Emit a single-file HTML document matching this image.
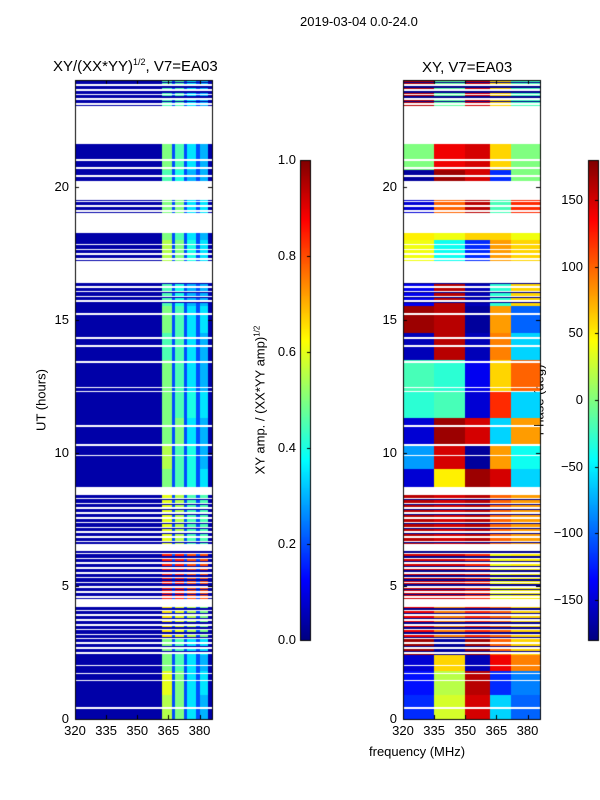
<!DOCTYPE html>
<html><head><meta charset="utf-8">
<style>
body{margin:0;width:600px;height:800px;background:#fff;position:relative;font-family:"Liberation Sans",sans-serif;overflow:hidden}
.t{position:absolute;font-size:13px;color:#000;white-space:nowrap}
canvas{position:absolute}
</style></head><body>
<div class="t" style="left:300px;top:14px">2019-03-04 0.0-24.0</div>
<div class="t" style="left:53px;top:57px;font-size:15px">XY/(XX*YY)<sup style="font-size:9px">1/2</sup>, V7=EA03</div>
<div class="t" style="left:422px;top:59px;font-size:15px">XY, V7=EA03</div>
<div class="t" style="left:41px;top:400px;transform:translate(-50%,-50%) rotate(-90deg)">UT (hours)</div>
<div class="t" style="left:260px;top:400px;transform:translate(-50%,-50%) rotate(-90deg)">XY amp. / (XX*YY amp)<sup style="font-size:8px">1/2</sup></div>
<div class="t" style="left:539px;top:400px;transform:translate(-50%,-50%) rotate(-90deg)">Phase (deg)</div>
<div class="t" style="left:369px;top:744px">frequency (MHz)</div>
<canvas id="c" width="600" height="800"></canvas>
<div id="labels"></div>
<script>
const hourTicks=[0,5,10,15,20];
const freqTicks=[320,335,350,365,380];
const ampTicks=[0.0,0.2,0.4,0.6,0.8,1.0];
const phaseTicks=[-150,-100,-50,0,50,100,150];
const freqEdges=[320,335,350,362,372,386];
const gaps=[[0.35,0.45],[4.2,4.5],[6.3,6.57],[8.4,8.7],[16.4,17.2],[18.25,19.0],[19.85,20.2],[21.6,23.0]];
const stripedRanges=[[2.4,3.1],[3.1,4.2],[4.5,6.3],[6.57,8.4],[15.6,16.4],[17.2,17.95],[19.0,19.5],[23.0,24]];
const thinGaps=[1.45,1.7,2.0,9.9,10.3,11.0,12.3,12.45,13.4,14.0,14.3,15.2,20.4,20.7,21.0,23.6];
const phaseStart=[0,0.9,1.8,2.4,3.1,4.5,6.57,8.7,9.4,10.3,11.3,12.3,13.5,14.5,15.5,17.2,18.0,19.0,20.2,20.6,23.0];
const phaseEnd=[0.9,1.8,2.4,3.1,4.2,6.3,8.4,9.4,10.3,11.3,12.3,13.5,14.5,15.5,16.4,18.0,18.3,19.5,20.6,21.6,24];
const phaseA=[-120,-130,-150,170,140,150,160,-150,-80,-150,-30,-20,-160,170,-140,40,50,-150,-170,0,160];
const phaseB=[30,20,60,-170,90,150,150,50,150,170,-20,-30,160,160,160,-40,40,100,170,140,-10];
const phaseC=[150,160,-160,170,120,120,160,170,-170,150,-150,-140,-160,-170,-160,-120,60,160,150,150,150];
const phaseD=[-60,-120,140,100,100,40,100,150,80,-60,120,60,90,80,-30,80,60,-20,-120,60,60];
const phaseE=[-100,-90,90,60,60,50,80,-60,-40,80,-60,100,-60,-100,60,60,40,120,0,0,-20];
const ampB1=[0.55,0.6,0.5,0.5,0.65,0.85,0.6,0.5,0.55,0.5,0.5,0.5,0.45,0.5,0.45,0.55,0.5,0.5,0.45,0.5,0.45];
const ampB2=[0.5,0.5,0.45,0.45,0.6,0.85,0.55,0.45,0.45,0.5,0.45,0.45,0.45,0.45,0.4,0.5,0.45,0.5,0.4,0.45,0.45];
const ampB3=[0.35,0.35,0.35,0.35,0.55,0.8,0.45,0.4,0.4,0.35,0.4,0.35,0.35,0.35,0.3,0.4,0.35,0.35,0.3,0.35,0.35];
const ampB4=[0.3,0.35,0.3,0.35,0.5,0.8,0.45,0.35,0.3,0.3,0.35,0.3,0.3,0.35,0.3,0.35,0.3,0.35,0.3,0.3,0.3];
const ampBase=0.04;

const L={x0:75,x1:212},R={x0:403,x1:540},Y0=719,Y1=80;
const fmin=320,fmax=386,hmin=0,hmax=24;
function xs(p,f){return p.x0+(f-fmin)/(fmax-fmin)*(p.x1-p.x0);}
function ys(h){return Y0-(h-hmin)/(hmax-hmin)*(Y0-Y1);}
function jet(v){v=Math.max(0,Math.min(1,v));
 const c=x=>Math.round(255*Math.max(0,Math.min(1,x)));
 return `rgb(${c(1.5-Math.abs(4*v-3))},${c(1.5-Math.abs(4*v-2))},${c(1.5-Math.abs(4*v-1))})`;}
function isWhite(h){
 for(const g of gaps) if(h>=g[0]&&h<g[1]) return true;
 for(const t of thinGaps) if(Math.abs(h-t)<0.03) return true;
 for(const s of stripedRanges) if(h>=s[0]&&h<s[1]){const k=Math.floor((h-s[0])/0.06);if(k%3===1)return true;}
 let inSeg=false;for(let i=0;i<phaseStart.length;i++) if(h>=phaseStart[i]&&h<phaseEnd[i]) inSeg=true;
 return !inSeg;}
function seg(h){for(let i=0;i<phaseStart.length;i++) if(h>=phaseStart[i]&&h<phaseEnd[i]) return i;return -1;}
const cv=document.getElementById('c'),ctx=cv.getContext('2d');
const dh=0.03,df=0.5;
function rect(x1,x2,y1,y2){const a=Math.round(x1),b=Math.round(x2),c=Math.round(y1),d=Math.round(y2);if(b>a&&d>c)ctx.fillRect(a,c,b-a,d-c);}
for(let h=hmin;h<hmax-1e-9;h+=dh){
 if(isWhite(h+dh/2)) continue;
 const i=seg(h+dh/2); if(i<0) continue;
 const striped=stripedRanges.some(s=>h>=s[0]&&h<s[1]);
 const alt=striped&&Math.floor(h/0.06)%3===2;
 const y1=ys(h+dh),y2=ys(h);
 for(let f=fmin;f<fmax-1e-9;f+=df){
  const fc=f+df/2;
  let a=ampBase;
  if(fc>=362&&fc<366.5)a=ampB1[i];else if(fc>=368&&fc<372.5)a=ampB2[i];
  else if(fc>=374&&fc<378.5)a=ampB3[i];else if(fc>=380&&fc<384)a=ampB4[i];
  else if(fc>=362&&fc<384)a=0.2;
  if(alt)a=ampBase;
  ctx.fillStyle=jet(a);
  rect(xs(L,f),xs(L,f+df),y1,y2);
  let k=0;while(k<4&&fc>=freqEdges[k+1])k++;
  let p=[phaseA,phaseB,phaseC,phaseD,phaseE][k][i];
  if(alt)p=-175;
  ctx.fillStyle=jet((p+180)/360);
  rect(xs(R,f),xs(R,f+df),y1,y2);
 }
}
const CB1={x:300,w:10},CB2={x:588,w:10},cbT=160,cbB=640;
for(let y=cbT;y<cbB;y++){const v=(cbB-y)/(cbB-cbT);ctx.fillStyle=jet(v);
 ctx.fillRect(CB1.x,y,CB1.w,1);ctx.fillRect(CB2.x,y,CB2.w,1);}
ctx.strokeStyle='#000';ctx.lineWidth=1;
[L,R].forEach(p=>{ctx.strokeRect(p.x0+0.5,Y1+0.5,p.x1-p.x0,Y0-Y1);
 hourTicks.forEach(h=>{const y=Math.round(ys(h))+0.5;ctx.beginPath();ctx.moveTo(p.x0,y);ctx.lineTo(p.x0+4,y);ctx.moveTo(p.x1,y);ctx.lineTo(p.x1-4,y);ctx.stroke();});
 freqTicks.forEach(f=>{const x=Math.round(xs(p,f))+0.5;ctx.beginPath();ctx.moveTo(x,Y0);ctx.lineTo(x,Y0-4);ctx.moveTo(x,Y1);ctx.lineTo(x,Y1+4);ctx.stroke();});});
[CB1,CB2].forEach(c=>ctx.strokeRect(c.x+0.5,cbT+0.5,c.w,cbB-cbT));
const lab=document.getElementById('labels');
function addLabel(txt,x,y,align,name){const d=document.createElement('div');d.className='t';d.textContent=txt;
 d.style.left=x+'px';d.style.top=(y-8)+'px';d.style.fontSize='13px';
 if(align==='r')d.style.transform='translateX(-100%)';else if(align==='c')d.style.transform='translateX(-50%)';
 
 
 lab.appendChild(d);}
[L,R].forEach((p,pi)=>{
 hourTicks.forEach(h=>addLabel(String(h),p.x0-6,ys(h),'r',(pi?'phase':'amp')+'-y-tick-'+h));
 freqTicks.forEach(f=>addLabel(String(f),xs(p,f),Y0+12,'c',(pi?'phase':'amp')+'-x-tick-'+f));});
ampTicks.forEach(v=>{const y=cbB-v*(cbB-cbT);addLabel(v.toFixed(1),296,y,'r','amp-cbar-tick');
 ctx.beginPath();ctx.moveTo(CB1.x+CB1.w-3,Math.round(y)+0.5);ctx.lineTo(CB1.x+CB1.w,Math.round(y)+0.5);ctx.stroke();});
phaseTicks.forEach(v=>{const y=cbB-(v+180)/360*(cbB-cbT);addLabel(v<0?'\u2212'+(-v):String(v),583,y,'r','phase-cbar-tick');
 ctx.beginPath();ctx.moveTo(CB2.x+CB2.w-3,Math.round(y)+0.5);ctx.lineTo(CB2.x+CB2.w,Math.round(y)+0.5);ctx.stroke();});
</script>
</body></html>
